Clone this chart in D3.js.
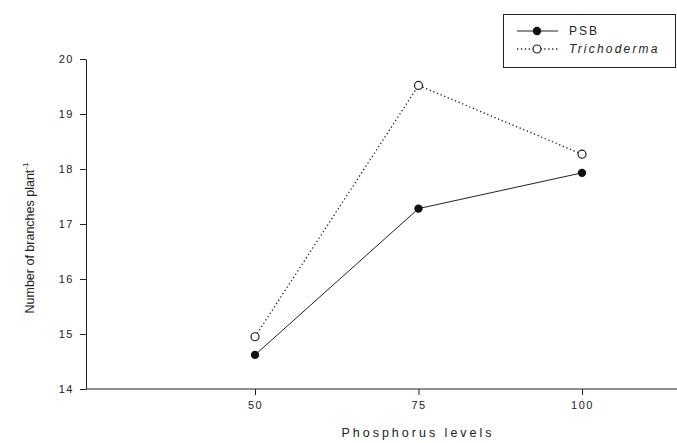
<!DOCTYPE html>
<html><head><meta charset="utf-8">
<script src="https://cdn.jsdelivr.net/npm/d3@7"></script>
<style>body{margin:0;background:#fff}text{font-family:"Liberation Sans",Arial,sans-serif;fill:#222}</style>
</head><body>
<svg id="c" width="677" height="443"></svg>
<script>
const levels = [50, 75, 100];
const psb = [14.62, 17.28, 17.93];
const trichoderma = [14.95, 19.52, 18.27];
const yTicks = [14, 15, 16, 17, 18, 19, 20];

const svg = d3.select("#c");
const x = d3.scaleLinear().domain([50, 100]).range([255, 582]);
const y = d3.scaleLinear().domain([14, 20]).range([389, 59]);
const x0 = 86, x1 = 677;

// y axis
const ya = svg.append("g").attr("transform", `translate(${x0},0)`)
  .call(d3.axisLeft(y).tickValues(yTicks).tickFormat(d3.format("d")).tickSize(6).tickPadding(6).tickSizeOuter(0));
ya.select(".domain").attr("stroke", "#222");
ya.selectAll(".tick line").attr("stroke", "#222");
ya.selectAll("text").style("font-size", "11px").style("letter-spacing", "1.5px").attr("fill", "#222");

// x axis
const xa = svg.append("g").attr("transform", `translate(0,389)`)
  .call(d3.axisBottom(x).tickValues(levels).tickFormat(d3.format("d")).tickSize(6).tickPadding(6).tickSizeOuter(0));
xa.select(".domain").attr("d", `M${x0},0H${x1}`).attr("stroke", "#222");
xa.selectAll(".tick line").attr("stroke", "#222");
xa.selectAll("text").style("font-size", "11px").style("letter-spacing", "1.5px").attr("fill", "#222");

// labels
svg.append("text").attr("x", 418).attr("y", 437).attr("text-anchor", "middle")
  .style("font-size", "12.5px").style("letter-spacing", "3px").text("Phosphorus levels");
const yl = svg.append("text").attr("transform", "translate(34,238) rotate(-90)")
  .attr("text-anchor", "middle").style("font-size", "12.5px");
yl.append("tspan").text("Number of branches plant");
yl.append("tspan").attr("dy", -6).style("font-size", "8px").text("-1");

const line = d3.line().x((d, i) => x(levels[i])).y(d => y(d));

svg.append("path").datum(trichoderma).attr("d", line).attr("fill", "none")
  .attr("stroke", "#222").attr("stroke-width", 1.3).attr("stroke-dasharray", "1.3,2.6");
svg.append("path").datum(psb).attr("d", line).attr("fill", "none")
  .attr("stroke", "#222").attr("stroke-width", 1);

svg.selectAll(".pt").data(trichoderma).enter().append("circle")
  .attr("cx", (d, i) => x(levels[i])).attr("cy", d => y(d)).attr("r", 4)
  .attr("fill", "#fff").attr("stroke", "#222").attr("stroke-width", 1.2);
svg.selectAll(".ps").data(psb).enter().append("circle")
  .attr("cx", (d, i) => x(levels[i])).attr("cy", d => y(d)).attr("r", 4.2)
  .attr("fill", "#111");

// legend
const lg = svg.append("g");
lg.append("rect").attr("x", 503.5).attr("y", 14.5).attr("width", 172).attr("height", 53)
  .attr("fill", "#fff").attr("stroke", "#222").attr("stroke-width", 1);
lg.append("line").attr("x1", 517).attr("x2", 558).attr("y1", 31).attr("y2", 31).attr("stroke", "#222");
lg.append("circle").attr("cx", 537).attr("cy", 31).attr("r", 4.2).attr("fill", "#111");
lg.append("line").attr("x1", 517).attr("x2", 558).attr("y1", 49).attr("y2", 49).attr("stroke", "#222")
  .attr("stroke-width", 1.3).attr("stroke-dasharray", "1.3,2.6");
lg.append("circle").attr("cx", 537).attr("cy", 49).attr("r", 4).attr("fill", "#fff").attr("stroke", "#222").attr("stroke-width", 1.2);
lg.append("text").attr("x", 569).attr("y", 35).style("font-size", "12px").style("letter-spacing", "2px").text("PSB");
lg.append("text").attr("x", 569).attr("y", 53).style("font-size", "12px").style("letter-spacing", "2.2px")
  .style("font-style", "italic").text("Trichoderma");
</script>
</body></html>
